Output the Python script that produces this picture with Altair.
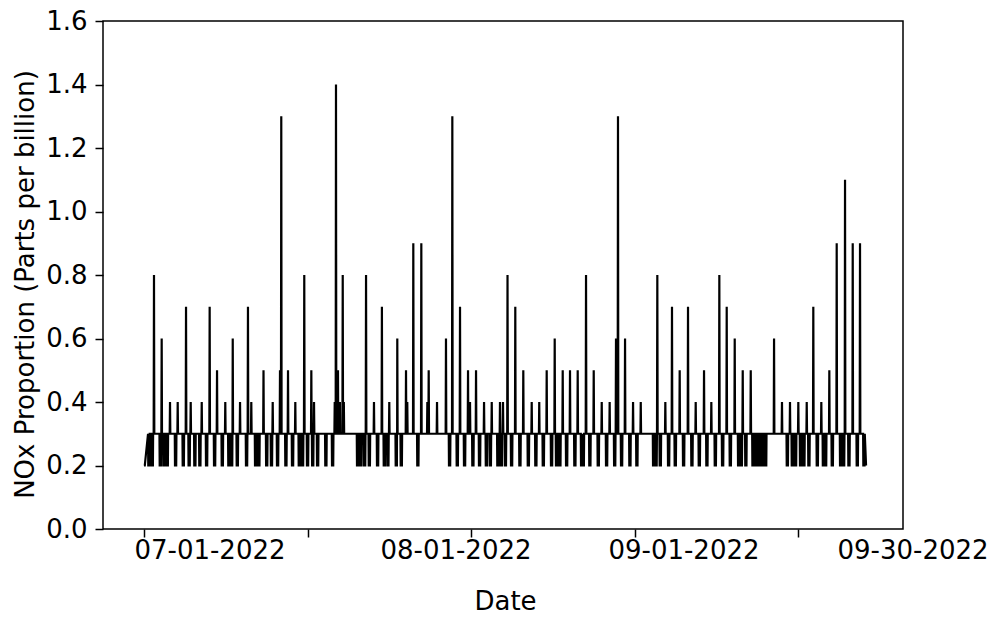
import altair as alt
import pandas as pd

START = pd.Timestamp("2022-07-01")

# Upward spikes: day offset from 2022-07-01 and peak value (ppb)
spike_day = [1.26, 2.23, 3.28, 4.25, 5.30, 5.89, 7.28, 8.28, 9.21, 10.25, 11.19, 12.11,
             13.11, 13.53, 15.07, 16.23, 17.15, 17.31, 18.16, 19.08, 20.21, 21.10, 21.44,
             24.05, 24.21, 24.46, 24.70, 25.06, 25.20, 28.00, 29.00, 30.00, 30.93, 31.94,
             33.04, 33.20, 33.96, 34.97, 35.73, 35.90, 36.95, 38.08, 38.88, 39.85, 40.86,
             41.11, 41.87, 42.88, 43.85, 44.89, 45.27, 45.84, 46.82, 47.83, 48.89, 49.84,
             50.78, 51.79, 52.80, 53.72, 54.69, 55.74, 56.71, 57.72, 58.72, 59.52, 59.77,
             60.66, 61.67, 62.64, 64.73, 65.74, 66.58, 67.55, 68.60, 69.57, 70.62, 71.54,
             72.55, 73.48, 74.49, 75.50, 76.51, 79.45, 80.45, 81.46, 82.51, 83.57, 84.40,
             85.41, 86.42, 87.35, 88.40, 89.37, 90.29]
spike_val = [0.8, 0.6, 0.4, 0.4, 0.7, 0.4, 0.4, 0.7, 0.5, 0.4, 0.6, 0.4,
             0.7, 0.4, 0.5, 0.4, 0.5, 1.3, 0.5, 0.4, 0.8, 0.5, 0.4,
             0.4, 1.4, 0.5, 0.4, 0.8, 0.4, 0.8, 0.4, 0.7, 0.4, 0.6,
             0.5, 0.4, 0.9, 0.9, 0.4, 0.5, 0.4, 0.6, 1.3, 0.7, 0.5,
             0.4, 0.5, 0.4, 0.4, 0.4, 0.4, 0.8, 0.7, 0.5, 0.4, 0.4,
             0.5, 0.6, 0.5, 0.5, 0.5, 0.8, 0.5, 0.4, 0.4, 0.6, 1.3,
             0.6, 0.4, 0.4, 0.8, 0.4, 0.7, 0.5, 0.7, 0.4, 0.5, 0.4,
             0.8, 0.7, 0.6, 0.5, 0.5, 0.6, 0.4, 0.4, 0.4, 0.4, 0.7,
             0.4, 0.5, 0.9, 1.1, 0.9, 0.9]

# Short drops to the low level (the dense run around 09-17 included)
dip_day = [0.54, 0.97, 1.98, 2.43, 2.86, 3.91, 4.88, 5.62, 6.34, 6.97, 7.82, 8.83, 9.80,
           10.63, 10.98, 11.69, 12.86, 14.00, 14.41, 15.40, 16.00, 16.77, 17.82, 18.66,
           19.51, 19.92, 20.55, 21.20, 21.82, 22.86, 23.71, 26.86, 27.28, 27.75, 28.34,
           29.38, 30.23, 30.68, 31.74, 32.37, 34.46, 38.46, 39.43, 40.35, 41.40, 42.24,
           43.10, 43.60, 44.55, 44.98, 45.50, 46.28, 47.33, 48.39, 49.34, 50.28, 51.32,
           51.95, 52.37, 53.22, 54.26, 55.11, 55.32, 56.15, 57.21, 58.26, 59.28, 60.15,
           61.20, 62.08, 64.19, 64.50, 65.03, 66.08, 66.92, 67.97, 69.02, 69.95, 70.91,
           71.97, 72.89, 73.86, 74.91, 75.25, 75.82,
           76.72, 76.92, 77.12, 77.32, 77.52, 77.72, 77.92, 78.12, 78.32,
           81.05, 81.68, 82.09, 82.72, 83.14,
           83.77, 84.83, 85.60, 85.88, 86.72, 87.77, 88.15, 88.82, 89.87, 90.71]

BASE = 0.3
LOW = 0.2
series_start_day = 0.0
series_end_day = 91.05

x_domain_day = [-5.17, 95.71]
tick_day = [0.0, 20.62, 41.24, 61.86, 82.48]
label_text = ["07-01-2022", "08-01-2022", "09-01-2022", "09-30-2022"]
label_day = [8.32, 39.34, 68.09, 96.97]
y_ticks = [0.0, 0.2, 0.4, 0.6, 0.8, 1.0, 1.2, 1.4, 1.6]

FONT = "DejaVu Sans"


def ts(d):
    return START + pd.to_timedelta(d, unit="D")


def iso(d):
    return ts(d).strftime("%Y-%m-%dT%H:%M:%S")


def dt(d):
    t = ts(d)
    return alt.DateTime(year=t.year, month=t.month, date=t.day,
                        hours=t.hour, minutes=t.minute, seconds=t.second)


pts = [(series_start_day, LOW), (series_start_day + 0.1, LOW)]
for d, v in zip(spike_day, spike_val):
    pts += [(d - 0.04, BASE), (d, v), (d + 0.04, BASE)]
for d in dip_day:
    pts += [(d - 0.03, BASE), (d, LOW), (d + 0.15, LOW), (d + 0.18, BASE)]
pts.append((series_end_day, LOW))
pts.sort(key=lambda p: p[0])

df = pd.DataFrame({"t": [iso(p[0]) for p in pts], "v": [p[1] for p in pts]})
labels_df = pd.DataFrame({"t": [iso(d) for d in label_day], "label": label_text})

x_scale = alt.Scale(domain=[dt(x_domain_day[0]), dt(x_domain_day[1])])

line = alt.Chart(df).mark_line(color="black", strokeWidth=2.2, strokeJoin="miter").encode(
    x=alt.X("t:T", scale=x_scale,
            axis=alt.Axis(values=[dt(d) for d in tick_day], labels=False, grid=False,
                          domain=False, ticks=True, tickSize=8, tickColor="black",
                          tickWidth=1.5, title="Date", titleFont=FONT, titleFontSize=26,
                          titleFontWeight="normal", titleColor="black",
                          titleX=402, titleY=72, titleBaseline="middle",
                          titleAlign="center")),
    y=alt.Y("v:Q", scale=alt.Scale(domain=[0, 1.6]),
            axis=alt.Axis(values=y_ticks, format=".1f", grid=False, domain=False,
                          tickSize=8, tickColor="black", tickWidth=1.5,
                          labelFont=FONT, labelFontSize=26, labelColor="black",
                          labelPadding=8, labelFlush=False, labelOverlap=False,
                          title="NOx Proportion (Parts per billion)", titleFont=FONT,
                          titleFontSize=26, titleFontWeight="normal", titleColor="black",
                          titleAngle=-90, titleX=-78, titleY=263,
                          titleBaseline="middle", titleAlign="center")),
)

texts = alt.Chart(labels_df).mark_text(font=FONT, fontSize=26, color="black",
                                        align="center", baseline="middle").encode(
    x=alt.X("t:T", scale=x_scale),
    y=alt.value(530),
    text="label:N",
)

chart = alt.layer(line, texts).properties(
    width=800,
    height=508,
    autosize=alt.AutoSizeParams(type="none"),
    padding={"left": 95, "top": 13, "right": 89, "bottom": 90},
).configure_view(stroke="black", strokeWidth=1.5)

chart.save("out.html", embed_options={"renderer": "svg", "actions": False})
